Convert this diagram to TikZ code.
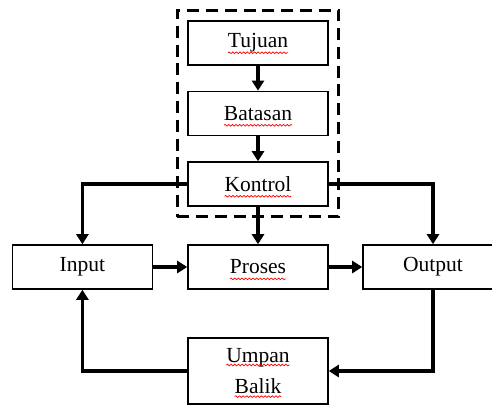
\documentclass[tikz,border=0pt]{standalone}
\usepackage{fontspec}
\setmainfont{Liberation Serif}
\usepackage{xcolor}
\usepackage{tikz}
\usetikzlibrary{positioning,arrows.meta,fit,decorations.pathmorphing}

\newcommand{\wordfont}{\fontsize{15.3}{22.5}\selectfont}
\newlength{\wdtujuan}
\newlength{\wdbatasan}
\newlength{\wdkontrol}
\newlength{\wdproses}
\newlength{\wdumpan}
\newlength{\wdbalik}
% red spell-check wave under a word: anchor, width, shift
\newcommand{\redwave}[3]{%
    \draw[wavy] ([xshift=-0.5#2,yshift=#3]#1) -- ([xshift=0.5#2,yshift=#3]#1);}

\begin{document}
\settowidth{\wdtujuan}{\wordfont Tujuan}%
\settowidth{\wdbatasan}{\wordfont Batasan}%
\settowidth{\wdkontrol}{\wordfont Kontrol}%
\settowidth{\wdproses}{\wordfont Proses}%
\settowidth{\wdumpan}{\wordfont Umpan}%
\settowidth{\wdbalik}{\wordfont Balik}%
\begin{tikzpicture}[
        box/.style = {draw, line width=1.1pt, minimum width=3.5cm, minimum height=1.1cm},
        arrow/.style = {-{Triangle[length=0.25cm,width=0.3cm]}, line width=2.4pt},
        groupbox/.style = {draw, line width=2.3pt, dash pattern=on 0.3cm off 0.17cm, inner sep=0.25cm},
        wavy/.style = {red, line width=0.5pt, decorate, decoration={snake, amplitude=0.6pt, segment length=2.6pt}},
        every node/.style = {font=\wordfont}
    ]
    \clip (0,0) rectangle (12.3,10.125);

    \node[box] (tujuan) at (6.45,9.05) {Tujuan};
    \node[box] (batasan) at (6.45,7.29) {Batasan};
    \node[box] (kontrol) at (6.45,5.525) {Kontrol};

    \node[box] (input) at (2.06,3.45) {Input};
    \node[box] (proses) at (6.45,3.45) {Proses};
    \node[box] (output) at (10.825,3.45) {Output};
    \node[box,align=center,minimum height=1.65cm] (umpan) at (6.45,0.85) {Umpan\\Balik};

    % dashed group round the control part
    \node[groupbox,fit=(tujuan)(kontrol)] (kendali) {};

    % spell-check waves
    \redwave{tujuan.base}{\wdtujuan}{-3.5pt}
    \redwave{batasan.base}{\wdbatasan}{-3.5pt}
    \redwave{kontrol.base}{\wdkontrol}{-3.5pt}
    \redwave{proses.base}{\wdproses}{-3.5pt}
    \redwave{umpan.center}{\wdumpan}{0.15cm}
    \redwave{umpan.center}{\wdbalik}{-0.64cm}

    % Arrows
    \draw[arrow] (tujuan) -- (batasan);
    \draw[arrow] (batasan) -- (kontrol);
    \draw[arrow] (kontrol) -- (proses);
    \draw[arrow] (kontrol.west) -| (input.north);
    \draw[arrow] (kontrol.east) -| (output.north);
    \draw[arrow] (input) -- (proses);
    \draw[arrow] (proses) -- (output);
    \draw[arrow] (output.south) |- (umpan.east);
    \draw[arrow] (umpan.west) -| (input.south);

\end{tikzpicture}
\end{document}
